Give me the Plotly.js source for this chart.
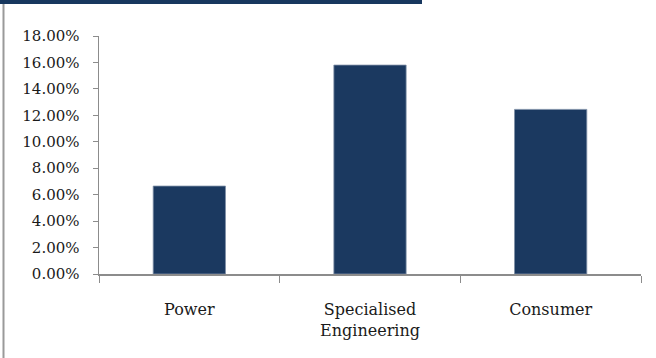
<!DOCTYPE html>
<html>
<head>
<meta charset="utf-8">
<script src="https://cdn.plot.ly/plotly-3.0.1.min.js"></script>
<style>
  html, body { margin: 0; padding: 0; background: #ffffff; }
  #chart { width: 656px; height: 358px; }
</style>
</head>
<body>
<div id="chart"></div>
<script>
// Segment growth by business line (%)
const categories = ['Power', 'Specialised<br>Engineering', 'Consumer'];
const growthPct = [6.65, 15.8, 12.45];
const yTickVals = [0, 2, 4, 6, 8, 10, 12, 14, 16, 18];
const yTickText = yTickVals.map(v => v.toFixed(2) + '%');

const navy = '#1b3960';
const axisGrey = '#8c8c8c';
const fontFamily = 'DejaVu Serif, serif';

// plot-area geometry in pixels, used to place the frame decorations
const W = 656, H = 358, ML = 99, MR = 15, MT = 36, MB = 84;
const PW = W - ML - MR, PH = H - MT - MB;
const px = v => (v - ML) / PW;
const py = v => (H - MB - v) / PH;

const trace = {
  type: 'bar',
  x: categories,
  y: growthPct,
  marker: { color: navy, line: { color: '#7d8ea6', width: 0.8 } },
  hoverinfo: 'none'
};

const layout = {
  width: W,
  height: H,
  margin: { l: ML, r: MR, t: MT, b: MB, pad: 0 },
  paper_bgcolor: '#ffffff',
  plot_bgcolor: '#ffffff',
  showlegend: false,
  bargap: 0.6,
  font: { family: fontFamily, size: 15, color: '#1a1a1a' },
  xaxis: {
    type: 'category',
    showgrid: false,
    zeroline: false,
    showline: true,
    linecolor: axisGrey,
    linewidth: 1.5,
    ticks: 'outside',
    tickson: 'boundaries',
    ticklen: 7,
    tickcolor: axisGrey,
    tickwidth: 1,
    ticklabelstandoff: 20,
    tickfont: { family: fontFamily, size: 16, color: '#1a1a1a' }
  },
  yaxis: {
    range: [0, 18],
    tickmode: 'array',
    tickvals: yTickVals,
    ticktext: yTickText,
    showgrid: false,
    zeroline: false,
    showline: true,
    linecolor: axisGrey,
    linewidth: 1.5,
    ticks: 'outside',
    ticklen: 5,
    tickcolor: axisGrey,
    tickwidth: 1,
    ticklabelstandoff: 10,
    tickfont: { family: fontFamily, size: 15, color: '#1a1a1a' }
  },
  shapes: [
    // header band across the top
    {
      type: 'rect', xref: 'paper', yref: 'paper', layer: 'above',
      x0: px(0), x1: px(422), y0: py(4), y1: py(0),
      fillcolor: '#17375e', line: { width: 0 }
    },
    // left frame rule
    {
      type: 'line', xref: 'paper', yref: 'paper', layer: 'above',
      x0: px(3.5), x1: px(3.5), y0: py(4), y1: py(H),
      line: { color: '#9a9a9a', width: 2 }
    }
  ]
};

Plotly.newPlot('chart', [trace], layout, { displayModeBar: false, staticPlot: true });
</script>
</body>
</html>
